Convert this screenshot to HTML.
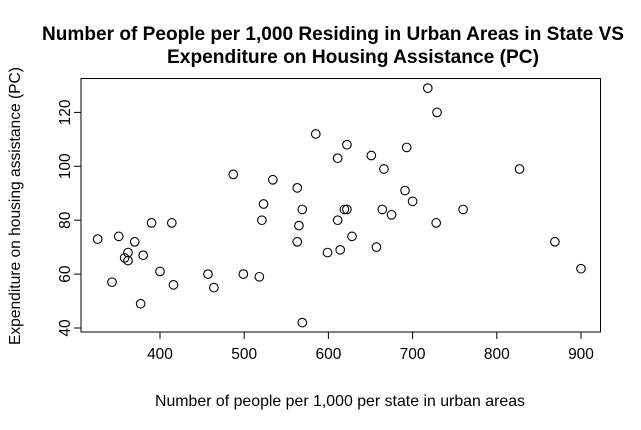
<!DOCTYPE html>
<html><head><meta charset="utf-8"><style>
html,body{margin:0;padding:0;background:#fff;}
svg{display:block;font-family:"Liberation Sans",Arial,sans-serif;}
</style></head><body>
<svg id="chart" width="641" height="430">
<text x="333" y="40" text-anchor="middle" font-size="19.2" font-weight="bold" textLength="582" lengthAdjust="spacingAndGlyphs">Number of People per 1,000 Residing in Urban Areas in State VS</text>
<text x="353" y="63" text-anchor="middle" font-size="19.2" font-weight="bold" textLength="372" lengthAdjust="spacingAndGlyphs">Expenditure on Housing Assistance (PC)</text>
<text x="340" y="406" text-anchor="middle" font-size="15.8" textLength="370" lengthAdjust="spacingAndGlyphs">Number of people per 1,000 per state in urban areas</text>
<text transform="translate(20,206) rotate(-90)" text-anchor="middle" font-size="15.8" textLength="278" lengthAdjust="spacingAndGlyphs">Expenditure on housing assistance (PC)</text>
<rect x="81" y="78.5" width="519.5" height="253.5" fill="none" stroke="#000" stroke-width="1"/>
<g id="xaxis"></g>
<g id="yaxis"></g>
<g id="points"></g>
</svg>
<script>
const xVals=[326,351,370,362,358,362,380,390,414,400,343,377,416,457,464,499,518,521,523,534,563,569,565,563,569,611,599,614,487,718,729,585,622,611,651,693,666,827,691,700,619,622,664,675,760,728,628,657,869,900];
const yVals=[73,74,72,68,66,65,67,79,79,61,57,49,56,60,55,60,59,80,86,95,92,84,78,72,42,80,68,69,97,129,120,112,108,103,104,107,99,99,91,87,84,84,84,82,84,79,74,70,72,62];
const xTicks=[400,500,600,700,800,900];
const yTicks=[40,60,80,100,120];
const NS="http://www.w3.org/2000/svg";
function sx(v){return 160+(v-400)*0.842;}
function sy(v){return 328-(v-40)*2.695;}
const xa=document.getElementById('xaxis'),ya=document.getElementById('yaxis'),pg=document.getElementById('points');
function mk(t,a){const e=document.createElementNS(NS,t);for(const k in a)e.setAttribute(k,a[k]);return e;}
xa.appendChild(mk('line',{x1:sx(400),x2:sx(900),y1:332,y2:332,stroke:'#000'}));
xTicks.forEach(t=>{
 const l=mk('line',{x1:sx(t),x2:sx(t),y1:332,y2:339,stroke:'#000'});
 
 
 xa.appendChild(l);
 const tx=mk('text',{x:sx(t),y:359,'text-anchor':'middle','font-size':15.5});
 tx.textContent=t;
 
 
 xa.appendChild(tx);
});
ya.appendChild(mk('line',{x1:81,x2:81,y1:sy(40),y2:sy(120),stroke:'#000'}));
yTicks.forEach(t=>{
 const l=mk('line',{x1:74,x2:81,y1:sy(t),y2:sy(t),stroke:'#000'});
 
 
 ya.appendChild(l);
 const tx=mk('text',{transform:`translate(70,${sy(t)}) rotate(-90)`,'text-anchor':'middle','font-size':15.5});
 tx.textContent=t;
 
 
 ya.appendChild(tx);
});
xVals.forEach((v,i)=>{
 const c=mk('circle',{cx:sx(v),cy:sy(yVals[i]),r:4.3,fill:'none',stroke:'#000','stroke-width':1.1});
 
 
 pg.appendChild(c);
});
</script>
</body></html>
